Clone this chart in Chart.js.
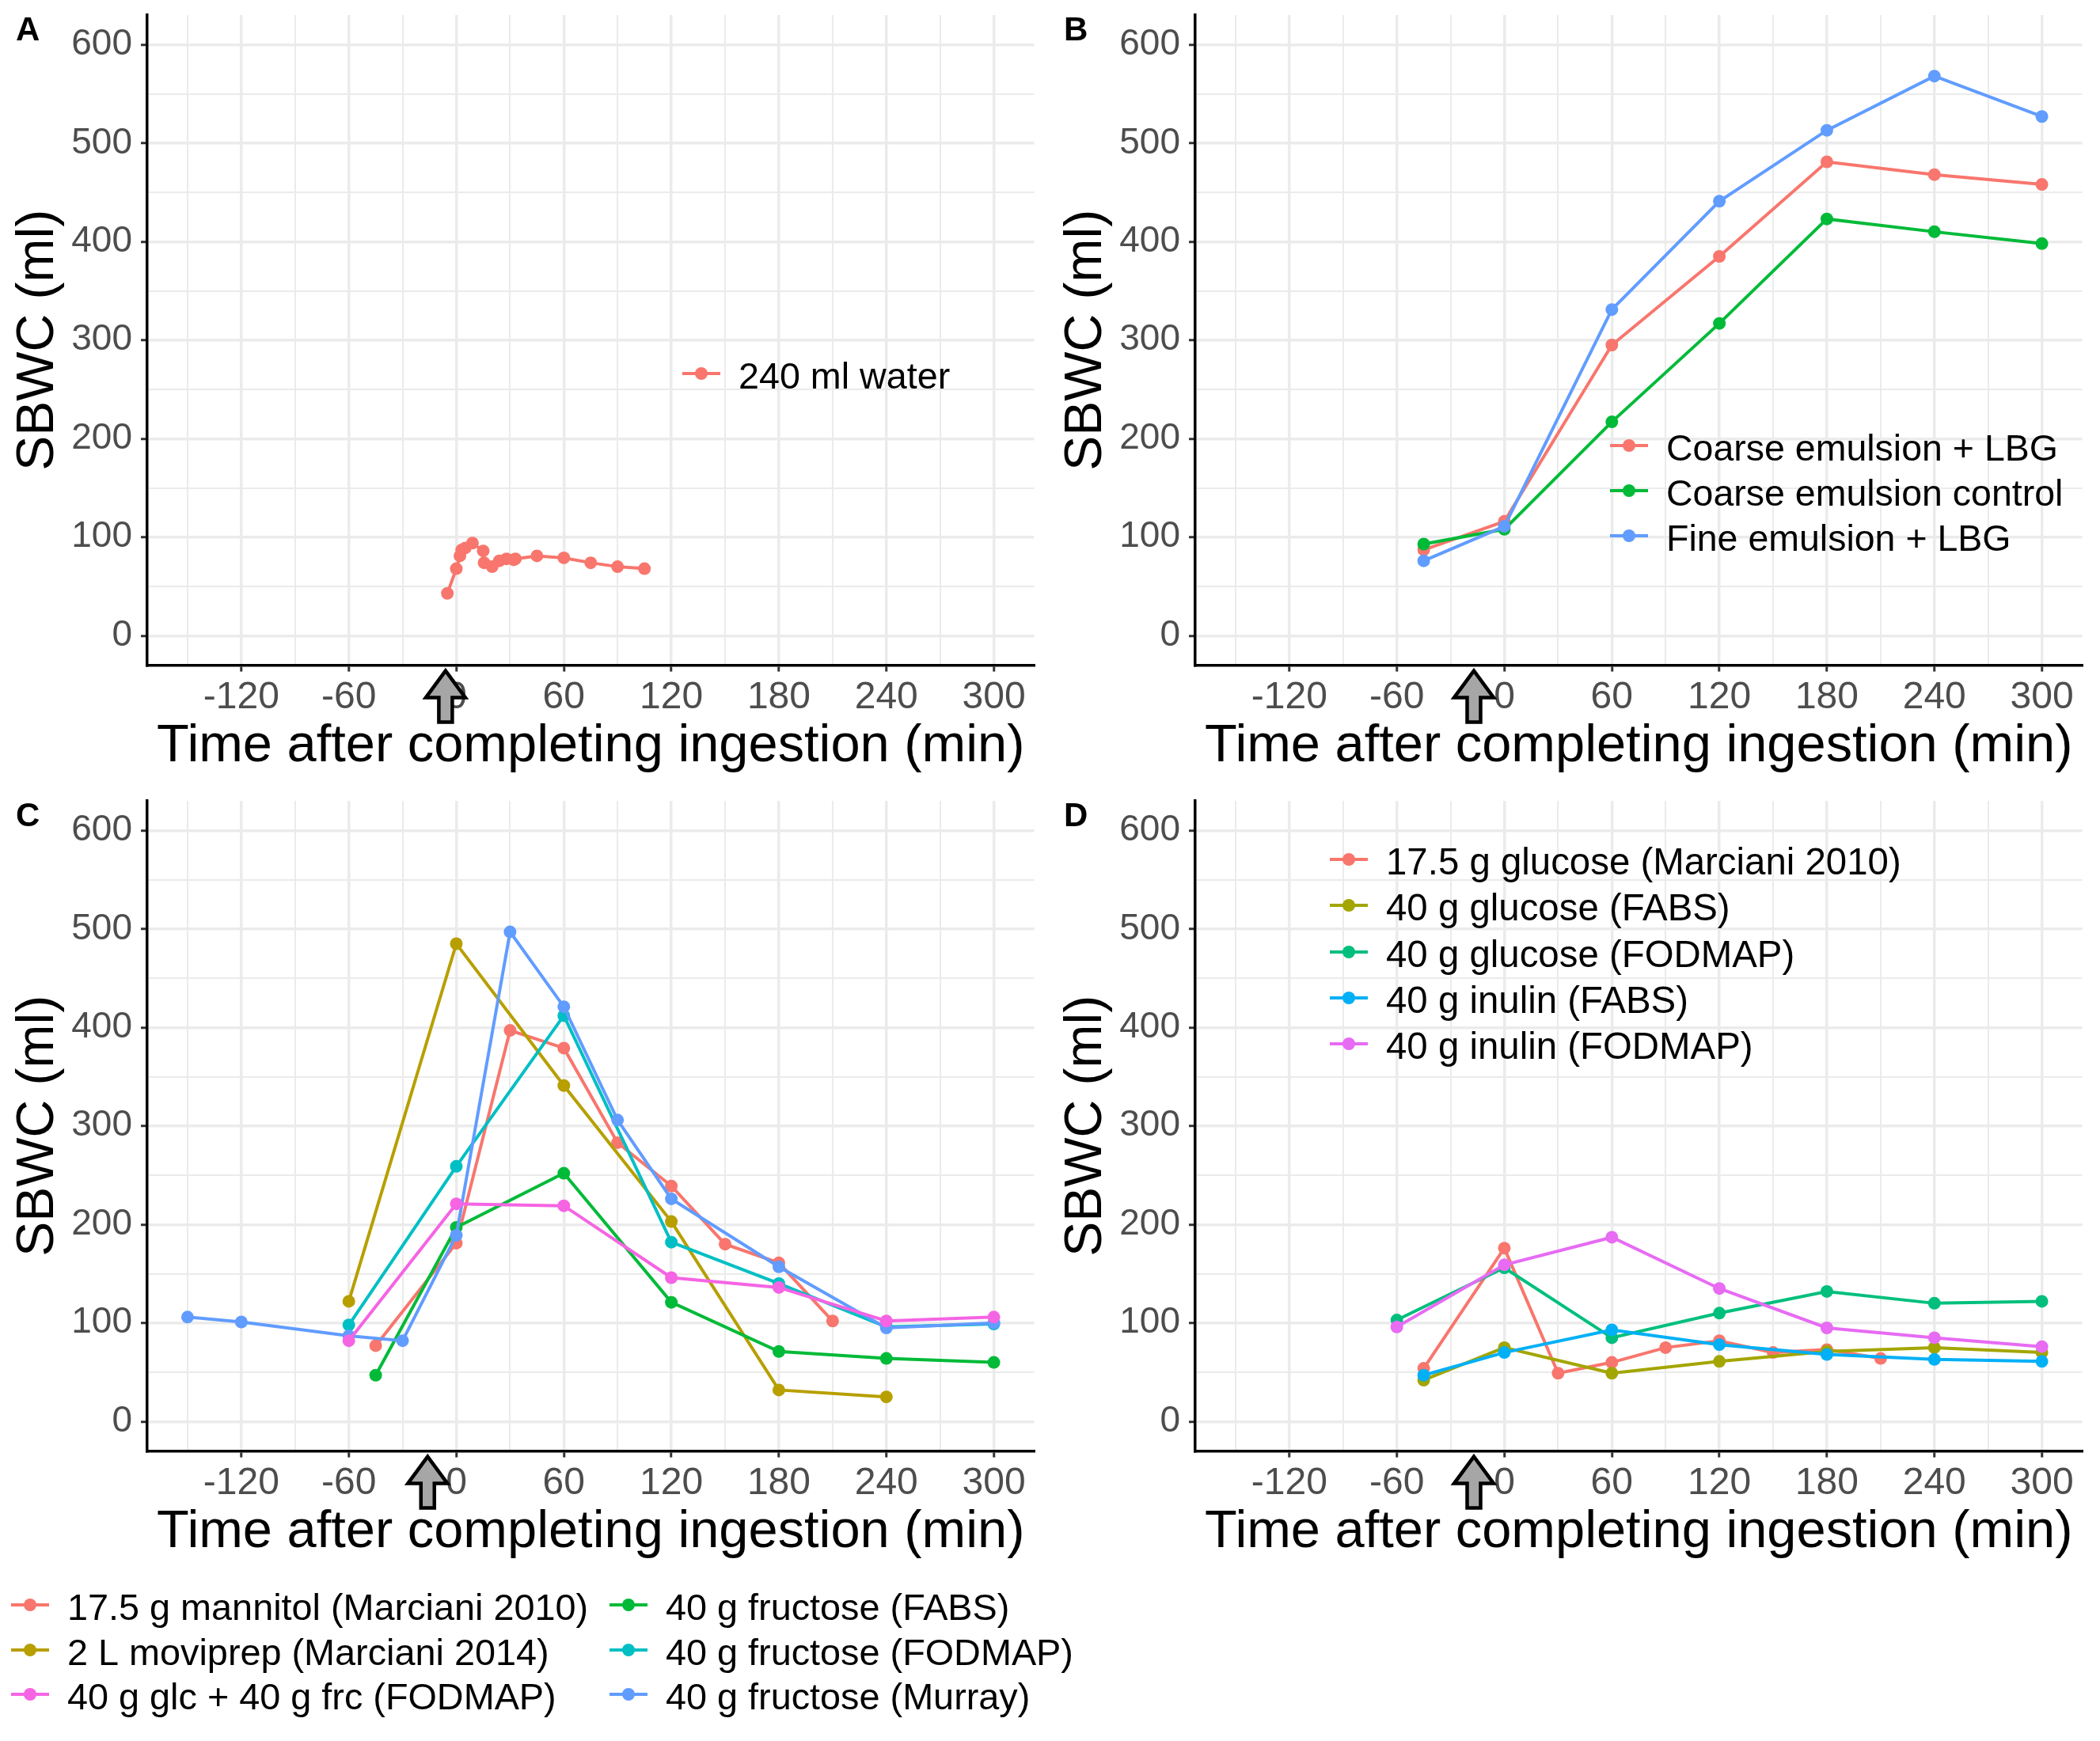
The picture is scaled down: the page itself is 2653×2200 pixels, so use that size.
<!DOCTYPE html>
<html>
<head>
<meta charset="utf-8">
<title>SBWC panels</title>
<script src="https://cdn.jsdelivr.net/npm/chart.js@4"></script>
<style>
  html, body { margin: 0; padding: 0; background: #fff; }
  #page { position: relative; width: 2653px; height: 2200px; overflow: hidden; }
  canvas { position: absolute; display: block; }
</style>
</head>
<body>
<div id="page">
  <canvas id="panelA" width="1326" height="1000" style="left:0;top:0"></canvas>
  <canvas id="panelB" width="1326" height="1000" style="left:1323.5px;top:0"></canvas>
  <canvas id="panelC" width="1400" height="1207" style="left:0;top:993px"></canvas>
  <canvas id="panelD" width="1326" height="1000" style="left:1323.5px;top:993px"></canvas>
</div>
<script>
// --- axis ticks ---
const xTicks = [-150, -120, -90, -60, -30, 0, 30, 60, 90, 120, 150, 180, 210, 240, 270, 300];
const xLabelled = [-120, -60, 0, 60, 120, 180, 240, 300];
const yTicks = [0, 50, 100, 150, 200, 250, 300, 350, 400, 450, 500, 550, 600];
const yLabelled = [0, 100, 200, 300, 400, 500, 600];

// --- panel A ---
const waterTimes = [-5, 0, 2, 3, 5, 9, 15, 15.5, 20, 24, 28, 32, 33, 45, 60, 75, 90, 105];
const waterValues = [43, 68, 81, 87, 89, 94, 86, 74, 70, 76, 78, 77, 78, 81, 79, 74, 70, 68];

// --- panel B ---
const emulsionTimes = [-45, 0, 60, 120, 180, 240, 300];
const coarseLbg = [87, 116, 295, 385, 481, 468, 458];
const coarseControl = [93, 108, 217, 317, 423, 410, 398];
const fineLbg = [76, 111, 331, 441, 513, 568, 527];

// --- panel C ---
const mannitolTimes = [-45, 0, 30, 60, 90, 120, 150, 180, 210];
const mannitolValues = [77, 181, 397, 379, 283, 239, 180, 161, 102];
const moviprepTimes = [-60, 0, 60, 120, 180, 240];
const moviprepValues = [122, 485, 341, 203, 32, 25];
const fructoseFabsTimes = [-45, 0, 60, 120, 180, 240, 300];
const fructoseFabsValues = [47, 197, 252, 121, 71, 64, 60];
const fructoseFodmapTimes = [-60, 0, 60, 120, 180, 240, 300];
const fructoseFodmapValues = [98, 259, 412, 182, 140, 96, 99];
const fructoseMurrayTimes = [-150, -120, -60, -30, 0, 30, 60, 90, 120, 180, 240, 300];
const fructoseMurrayValues = [106, 101, 87, 82, 189, 497, 421, 306, 226, 157, 95, 100];
const glcFrcTimes = [-60, 0, 60, 120, 180, 240, 300];
const glcFrcValues = [82, 221, 219, 146, 136, 102, 106];

// --- panel D ---
const glucoseMarcianiTimes = [-45, 0, 30, 60, 90, 120, 150, 180, 210];
const glucoseMarcianiValues = [54, 176, 49, 60, 75, 82, 70, 73, 64];
const glucoseFabsTimes = [-45, 0, 60, 120, 180, 240, 300];
const glucoseFabsValues = [42, 75, 49, 61, 71, 75, 70];
const glucoseFodmapTimes = [-60, 0, 60, 120, 180, 240, 300];
const glucoseFodmapValues = [103, 156, 85, 110, 132, 120, 122];
const inulinFabsTimes = [-45, 0, 60, 120, 180, 240, 300];
const inulinFabsValues = [47, 70, 93, 78, 68, 63, 61];
const inulinFodmapTimes = [-60, 0, 60, 120, 180, 240, 300];
const inulinFodmapValues = [96, 159, 187, 135, 95, 85, 76];

const FONT = '"Liberation Sans", Arial, sans-serif';
Chart.defaults.font.family = FONT;

function series(label, color, times, values) {
  return {
    label: label,
    data: times.map((t, i) => ({ x: t, y: values[i] })),
    borderColor: color,
    backgroundColor: color,
    borderWidth: 4,
    pointRadius: 8,
    pointBorderWidth: 0,
    pointHoverRadius: 8,
    tension: 0,
  };
}

/**
 * Panel tag, ingestion arrow and in-panel legend
 */
const panelDecor = {
  id: "panelDecor",
  afterDraw(chart, args, opts) {
    const ctx = chart.ctx;
    ctx.save();

    ctx.fillStyle = "#000";
    ctx.font = `bold 42px ${FONT}`;
    ctx.textAlign = "left";
    ctx.textBaseline = "alphabetic";
    ctx.fillText(opts.tag, 20, 51);

    // legend entries
    ctx.font = `${opts.legendSize}px ${FONT}`;
    ctx.textBaseline = "middle";
    opts.legend.forEach((item) => {
      ctx.strokeStyle = item.color;
      ctx.lineWidth = 4;
      ctx.beginPath();
      ctx.moveTo(item.x - 24, item.y);
      ctx.lineTo(item.x + 24, item.y);
      ctx.stroke();
      ctx.fillStyle = item.color;
      ctx.beginPath();
      ctx.arc(item.x, item.y, 8, 0, Math.PI * 2);
      ctx.fill();
      ctx.fillStyle = "#000";
      ctx.fillText(item.label, item.x + 47, item.y + 6);
    });

    // arrow marking end of ingestion
    const ax = chart.scales.x.getPixelForValue(opts.arrowTime);
    const top = chart.chartArea.bottom + 7;
    ctx.fillStyle = "#A6A6A6";
    ctx.strokeStyle = "#000";
    ctx.lineWidth = 4.5;
    ctx.lineJoin = "miter";
    ctx.beginPath();
    ctx.moveTo(ax, top);
    ctx.lineTo(ax + 25, top + 34);
    ctx.lineTo(ax + 8.5, top + 34);
    ctx.lineTo(ax + 8.5, top + 65);
    ctx.lineTo(ax - 8.5, top + 65);
    ctx.lineTo(ax - 8.5, top + 34);
    ctx.lineTo(ax - 25, top + 34);
    ctx.closePath();
    ctx.fill();
    ctx.stroke();
    ctx.restore();
  },
};
Chart.register(panelDecor);

function makePanel(id, datasets, decor, padding) {
  datasets.forEach((d, i) => { d.order = -i; });
  return new Chart(document.getElementById(id), {
    type: "line",
    data: { datasets: datasets },
    options: {
      responsive: false,
      animation: false,
      devicePixelRatio: 1,
      layout: { padding: padding },
      plugins: {
        legend: { display: false },
        tooltip: { enabled: false },
        panelDecor: decor,
      },
      scales: {
        x: {
          type: "linear",
          min: -172.5,
          max: 322.5,
          bounds: "data",
          afterBuildTicks: (scale) => { scale.ticks = xTicks.map((v) => ({ value: v })); },
          afterFit: (scale) => {
            scale.height = 159.4;
            scale.paddingLeft = 0;
            scale.paddingRight = 0;
          },
          grid: {
            color: "#EBEBEB",
            lineWidth: (c) => (xLabelled.includes(c.tick.value) ? 3.5 : 2),
            tickColor: (c) => (xLabelled.includes(c.tick.value) ? "#333333" : "rgba(0,0,0,0)"),
            tickLength: 8,
            tickWidth: 3,
          },
          border: { color: "#000", width: 3.5 },
          ticks: {
            color: "#4D4D4D",
            font: { size: 48 },
            padding: 4,
            autoSkip: false,
            maxRotation: 0,
            minRotation: 0,
            callback: (v) => (xLabelled.includes(v) ? String(v) : ""),
          },
          title: {
            display: true,
            text: "Time after completing ingestion (min)",
            color: "#000",
            font: { size: 66.8 },
            padding: { top: 0, bottom: 16 },
          },
        },
        y: {
          min: -30,
          max: 630,
          bounds: "data",
          afterBuildTicks: (scale) => { scale.ticks = yTicks.map((v) => ({ value: v })); },
          afterFit: (scale) => {
            scale.width = 186;
            scale.paddingTop = 0;
            scale.paddingBottom = 0;
          },
          grid: {
            color: "#EBEBEB",
            lineWidth: (c) => (yLabelled.includes(c.tick.value) ? 3.5 : 2),
            tickColor: (c) => (yLabelled.includes(c.tick.value) ? "#333333" : "rgba(0,0,0,0)"),
            tickLength: 8,
            tickWidth: 3,
          },
          border: { color: "#000", width: 3.5 },
          ticks: {
            color: "#4D4D4D",
            font: { size: 46 },
            padding: 11,
            autoSkip: false,
            callback: (v) => (yLabelled.includes(v) ? String(v) : ""),
          },
          title: {
            display: true,
            text: "SBWC (ml)",
            color: "#000",
            font: { size: 66 },
            padding: { top: 9, bottom: 0 },
          },
        },
      },
    },
  });
}

makePanel("panelA", [
  series("240 ml water", "#F8766D", waterTimes, waterValues),
], {
  tag: "A",
  arrowTime: -6,
  legendSize: 46.7,
  legend: [{ label: "240 ml water", color: "#F8766D", x: 886, y: 472 }],
}, { top: 19, right: 19.5 });

makePanel("panelB", [
  series("Coarse emulsion + LBG", "#F8766D", emulsionTimes, coarseLbg),
  series("Coarse emulsion control", "#00BA38", emulsionTimes, coarseControl),
  series("Fine emulsion + LBG", "#619CFF", emulsionTimes, fineLbg),
], {
  tag: "B",
  arrowTime: -17,
  legendSize: 46.5,
  legend: [
    { label: "Coarse emulsion + LBG", color: "#F8766D", x: 734, y: 563 },
    { label: "Coarse emulsion control", color: "#00BA38", x: 734, y: 620 },
    { label: "Fine emulsion + LBG", color: "#619CFF", x: 734, y: 677 },
  ],
}, { top: 19, right: 19.5 });

makePanel("panelC", [
  series("17.5 g mannitol (Marciani 2010)", "#F8766D", mannitolTimes, mannitolValues),
  series("2 L moviprep (Marciani 2014)", "#B79F00", moviprepTimes, moviprepValues),
  series("40 g fructose (FABS)", "#00BA38", fructoseFabsTimes, fructoseFabsValues),
  series("40 g fructose (FODMAP)", "#00BFC4", fructoseFodmapTimes, fructoseFodmapValues),
  series("40 g fructose (Murray)", "#619CFF", fructoseMurrayTimes, fructoseMurrayValues),
  series("40 g glc + 40 g frc (FODMAP)", "#F564E3", glcFrcTimes, glcFrcValues),
], {
  tag: "C",
  arrowTime: -16,
  legendSize: 46.8,
  legend: [
    { label: "17.5 g mannitol (Marciani 2010)", color: "#F8766D", x: 38, y: 1035 },
    { label: "2 L moviprep (Marciani 2014)", color: "#B79F00", x: 38, y: 1092 },
    { label: "40 g glc + 40 g frc (FODMAP)", color: "#F564E3", x: 38, y: 1148 },
    { label: "40 g fructose (FABS)", color: "#00BA38", x: 794, y: 1035 },
    { label: "40 g fructose (FODMAP)", color: "#00BFC4", x: 794, y: 1092 },
    { label: "40 g fructose (Murray)", color: "#619CFF", x: 794, y: 1148 },
  ],
}, { top: 19, right: 93.5, bottom: 207 });

makePanel("panelD", [
  series("17.5 g glucose (Marciani 2010)", "#F8766D", glucoseMarcianiTimes, glucoseMarcianiValues),
  series("40 g glucose (FABS)", "#A3A500", glucoseFabsTimes, glucoseFabsValues),
  series("40 g glucose (FODMAP)", "#00BF7D", glucoseFodmapTimes, glucoseFodmapValues),
  series("40 g inulin (FABS)", "#00B0F6", inulinFabsTimes, inulinFabsValues),
  series("40 g inulin (FODMAP)", "#E76BF3", inulinFodmapTimes, inulinFodmapValues),
], {
  tag: "D",
  arrowTime: -17,
  legendSize: 47.4,
  legend: [
    { label: "17.5 g glucose (Marciani 2010)", color: "#F8766D", x: 380, y: 93 },
    { label: "40 g glucose (FABS)", color: "#A3A500", x: 380, y: 151 },
    { label: "40 g glucose (FODMAP)", color: "#00BF7D", x: 380, y: 210 },
    { label: "40 g inulin (FABS)", color: "#00B0F6", x: 380, y: 268 },
    { label: "40 g inulin (FODMAP)", color: "#E76BF3", x: 380, y: 326 },
  ],
}, { top: 19, right: 19.5 });
</script>
</body>
</html>
